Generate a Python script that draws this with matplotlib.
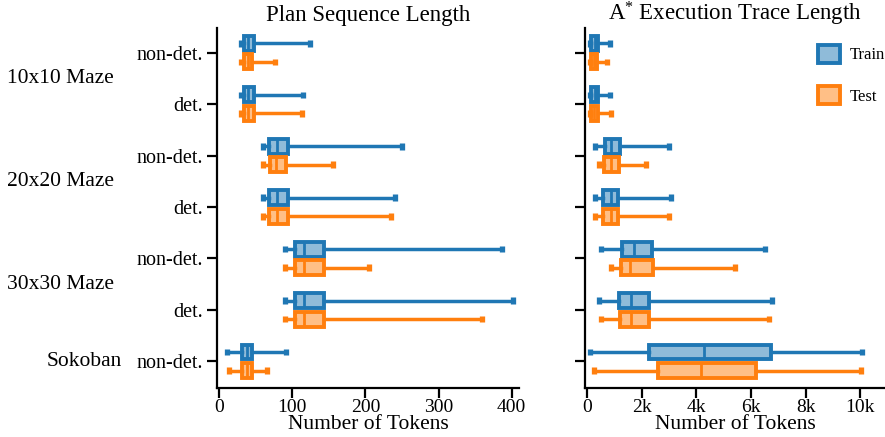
import matplotlib
matplotlib.use("Agg")
import matplotlib.pyplot as plt
from matplotlib.patches import Patch
from matplotlib.transforms import blended_transform_factory

plt.rcParams['font.family'] = ['Liberation Serif', 'DejaVu Serif']
plt.rcParams['mathtext.fontset'] = 'custom'
plt.rcParams['mathtext.rm'] = 'Liberation Serif'
plt.rcParams['mathtext.it'] = 'Liberation Serif:italic'

# ---- data ----
sub_labels = ["non-det.", "det.", "non-det.", "det.", "non-det.", "det.", "non-det."]
group_labels = ["10x10 Maze", "20x20 Maze", "30x30 Maze", "Sokoban"]
series = ["Train", "Test"]

plan_train_min = [30, 30, 60, 60, 90, 90, 10]
plan_train_q1 = [34, 34, 68, 68, 103, 103, 31]
plan_train_med = [40, 40, 79, 79, 116, 116, 38]
plan_train_q3 = [47, 47, 94, 94, 143, 143, 45]
plan_train_max = [124, 115, 250, 241, 387, 402, 92]

plan_test_min = [30, 30, 60, 60, 90, 90, 14]
plan_test_q1 = [34, 34, 70, 68, 103, 103, 31]
plan_test_med = [39, 40, 78, 79, 116, 116, 38]
plan_test_q3 = [45, 47, 92, 94, 143, 143, 45]
plan_test_max = [77, 113, 155, 235, 205, 360, 65]

trace_train_min = [100, 100, 280, 280, 500, 450, 110]
trace_train_q1 = [150, 150, 670, 590, 1280, 1160, 2250]
trace_train_med = [270, 270, 890, 860, 1700, 1590, 4290]
trace_train_q3 = [380, 380, 1200, 1120, 2380, 2270, 6710]
trace_train_max = [840, 850, 3010, 3070, 6510, 6760, 10040]

trace_test_min = [100, 100, 440, 280, 860, 490, 260]
trace_test_q1 = [150, 150, 620, 590, 1230, 1190, 2580]
trace_test_med = [260, 260, 880, 860, 1570, 1590, 4180]
trace_test_q3 = [360, 380, 1150, 1120, 2420, 2270, 6180]
trace_test_max = [740, 870, 2170, 3010, 5410, 6670, 10010]

plan_ticks = [0, 100, 200, 300, 400]
trace_ticks = [0, 2000, 4000, 6000, 8000, 10000]
trace_ticklabels = ["0", "2k", "4k", "6k", "8k", "10k"]

colors = {"Train": "#1f77b4", "Test": "#ff7f0e"}
fills = {"Train": "#8fbbd9", "Test": "#ffbf86"}


def stats(mn, q1, med, q3, mx):
    return [dict(whislo=a, q1=b, med=c, q3=d, whishi=e, fliers=[])
            for a, b, c, d, e in zip(mn, q1, med, q3, mx)]


fig = plt.figure(figsize=(8.85, 4.37), dpi=100)
ax1 = fig.add_axes([0.2452, 0.1121, 0.3412, 0.8238])
ax2 = fig.add_axes([0.661, 0.1121, 0.339, 0.8238])

n = len(sub_labels)
offsets = {"Train": -0.18, "Test": 0.18}

def draw(ax, data):
    for s in series:
        st = stats(*data[s])
        pos = [i + offsets[s] for i in range(n)]
        ax.bxp(st, positions=pos, widths=0.29, vert=False, patch_artist=True,
               showfliers=False, capwidths=0.13,
               boxprops=dict(facecolor=fills[s], edgecolor=colors[s], linewidth=2.8),
               medianprops=dict(color=colors[s], linewidth=2.0),
               whiskerprops=dict(color=colors[s], linewidth=2.5),
               capprops=dict(color=colors[s], linewidth=3.8, solid_capstyle='butt'))
    ax.set_ylim(n - 0.48, -0.48)
    ax.set_yticks(range(n))
    for sp in ["top", "right"]:
        ax.spines[sp].set_visible(False)
    for sp in ["left", "bottom"]:
        ax.spines[sp].set_linewidth(1.6)
    ax.tick_params(axis='both', length=7, width=1.6, labelsize=14.5, pad=3)
    ax.tick_params(axis='x', labelsize=14, pad=1)
    ax.set_xlabel("Number of Tokens", fontsize=15.5, labelpad=-1)

draw(ax1, {"Train": (plan_train_min, plan_train_q1, plan_train_med, plan_train_q3, plan_train_max),
           "Test": (plan_test_min, plan_test_q1, plan_test_med, plan_test_q3, plan_test_max)})
draw(ax2, {"Train": (trace_train_min, trace_train_q1, trace_train_med, trace_train_q3, trace_train_max),
           "Test": (trace_test_min, trace_test_q1, trace_test_med, trace_test_q3, trace_test_max)})

ax1.set_xlim(-3, 410)
ax1.set_xticks(plan_ticks)
ax1.set_xticklabels([str(t) for t in plan_ticks])
ax1.set_yticklabels(sub_labels)
ax1.set_title("Plan Sequence Length", fontsize=16.5, pad=5)

ax2.set_xlim(-80, 10900)
ax2.set_xticks(trace_ticks)
ax2.set_xticklabels(trace_ticklabels)
ax2.set_yticklabels([])
ax2.set_title(r"A$^{*}$ Execution Trace Length", fontsize=16.5, pad=5)

# group labels
tr = blended_transform_factory(fig.transFigure, ax1.transData)
group_y = [0.5, 2.5, 4.5]
for lab, y in zip(group_labels[:3], group_y):
    fig.text(7 / 885, y, lab, transform=tr, ha='left', va='center', fontsize=15.5)
fig.text(122 / 885, 6, group_labels[3], transform=tr, ha='right', va='center', fontsize=15.5)

handles = [Patch(facecolor=fills[s], edgecolor=colors[s], linewidth=2.8, label=s) for s in series]
ax2.legend(handles=handles, loc='upper right', bbox_to_anchor=(1.05, 0.995), frameon=False,
           fontsize=12, handlelength=1.3, handleheight=1.3, labelspacing=1.35, handletextpad=0.6)

fig.savefig("out.png", dpi=100)
